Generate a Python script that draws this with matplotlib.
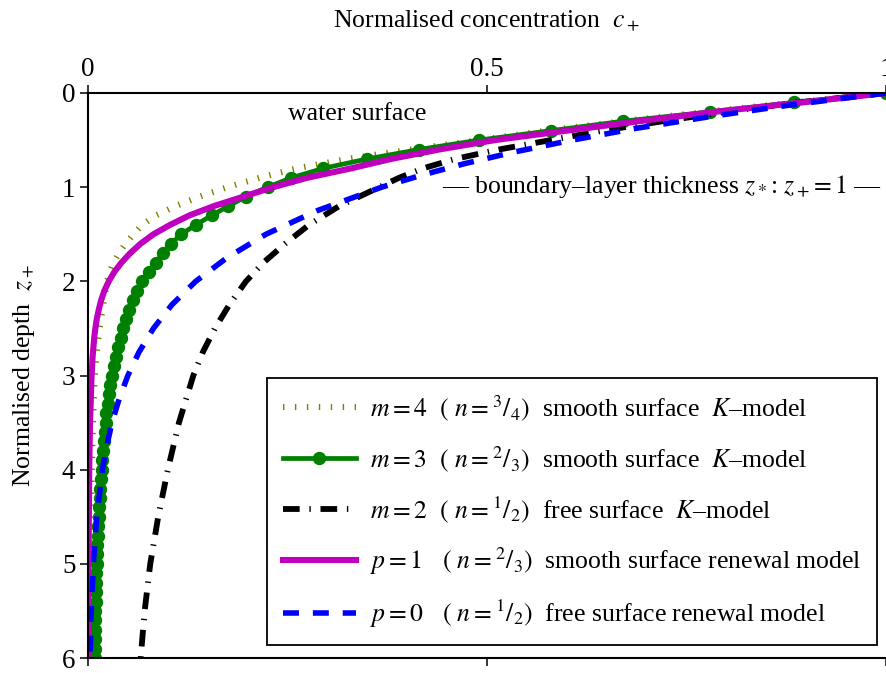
import matplotlib
matplotlib.use('Agg')
import matplotlib.pyplot as plt

plt.rcParams['font.family'] = ['Liberation Serif', 'DejaVu Serif']
plt.rcParams['mathtext.fontset'] = 'stix'
plt.rcParams['lines.scale_dashes'] = False

# depth grid (normalised depth z+) and concentration profiles
z_m4 = [0.0, 0.1, 0.2, 0.3, 0.4, 0.5, 0.6, 0.7, 0.8, 0.9, 1.0, 1.1, 1.2, 1.3, 1.4,
        1.5, 1.6, 1.7, 1.8, 1.9, 2.0, 2.25, 2.5, 2.75, 3.0, 3.5, 4.0, 4.5, 5.0, 5.5, 6.0]
c_m4 = [1.0, 0.885, 0.775, 0.67, 0.575, 0.49, 0.405, 0.325, 0.262, 0.215, 0.175, 0.14,
        0.11, 0.085, 0.068, 0.057, 0.047, 0.039, 0.032, 0.027, 0.024, 0.019, 0.0145,
        0.011, 0.0085, 0.0062, 0.0048, 0.0038, 0.0031, 0.0026, 0.0022]

z_m3 = [round(0.1 * i, 1) for i in range(61)]
c_m3 = [1.0, 0.885, 0.78, 0.67, 0.58, 0.49, 0.415, 0.35, 0.295, 0.255,
        0.225, 0.198, 0.176, 0.155, 0.135, 0.117, 0.104, 0.094, 0.085, 0.076,
        0.068, 0.062, 0.057, 0.052, 0.048, 0.044, 0.041, 0.038, 0.035, 0.033,
        0.030, 0.028, 0.026, 0.025, 0.023, 0.022, 0.021, 0.020, 0.019, 0.018,
        0.017, 0.0162, 0.0155, 0.0148, 0.0140, 0.0133, 0.0127, 0.0121, 0.0116, 0.0111,
        0.0107, 0.0103, 0.0100, 0.0097, 0.0094, 0.0092, 0.0090, 0.0088, 0.0087, 0.0086,
        0.0085]

z_m2 = [0.0, 0.1, 0.2, 0.3, 0.4, 0.5, 0.6, 0.7, 0.8, 0.9, 1.0, 1.2, 1.4, 1.6, 1.8,
        2.0, 2.25, 2.5, 2.75, 3.0, 3.5, 4.0, 4.5, 5.0, 5.5, 6.0]
c_m2 = [1.0, 0.89, 0.80, 0.72, 0.645, 0.58, 0.515, 0.46, 0.42, 0.39, 0.365, 0.315,
        0.277, 0.247, 0.22, 0.198, 0.177, 0.159, 0.144, 0.132, 0.114, 0.10, 0.088,
        0.078, 0.071, 0.066]

z_p1 = [0.0, 0.1, 0.2, 0.3, 0.4, 0.5, 0.6, 0.7, 0.8, 0.9, 1.0, 1.1, 1.2, 1.3, 1.4,
        1.5, 1.6, 1.7, 1.8, 1.9, 2.0, 2.1, 2.2, 2.3, 2.4, 2.5, 2.6, 2.8, 3.0, 3.5,
        4.0, 5.0, 6.0]
c_p1 = [1.0, 0.895, 0.785, 0.69, 0.60, 0.51, 0.44, 0.38, 0.33, 0.275, 0.232, 0.195,
        0.158, 0.127, 0.103, 0.082, 0.066, 0.053, 0.042, 0.033, 0.026, 0.0205, 0.0165,
        0.0135, 0.011, 0.0092, 0.0078, 0.0058, 0.0045, 0.0025, 0.0015, 0.0007, 0.0003]

z_p0 = [0.0, 0.125, 0.25, 0.375, 0.5, 0.625, 0.75, 0.875, 1.0, 1.25, 1.5, 1.75, 2.0,
        2.25, 2.5, 2.75, 3.0, 3.25, 3.5, 3.75, 4.0, 4.5, 5.0, 5.5, 6.0]
c_p0 = [1.0, 0.882, 0.78, 0.687, 0.607, 0.535, 0.472, 0.417, 0.368, 0.287, 0.223,
        0.174, 0.135, 0.105, 0.082, 0.064, 0.05, 0.039, 0.03, 0.0235, 0.018, 0.011,
        0.0067, 0.0041, 0.0025]

labels = [
    r'$m = 4$  $(\ n = {}^{3}/_{4})$  smooth surface  $K$–model',
    r'$m = 3$  $(\ n = {}^{2}/_{3})$  smooth surface  $K$–model',
    r'$m = 2$  $(\ n = {}^{1}/_{2})$  free surface  $K$–model',
    r'$p = 1$   $(\ n = {}^{2}/_{3})$  smooth surface renewal model',
    r'$p = 0$   $(\ n = {}^{1}/_{2})$  free surface renewal model',
]

fig = plt.figure(figsize=(8.86, 6.73), dpi=100)
ax = fig.add_axes([88 / 886, 1 - 658 / 673, 1 - 88 / 886, (658 - 93) / 673])

ax.plot(c_m4, z_m4, color='#808000', lw=4.4, dashes=(1.0, 7.6),
        dash_capstyle='butt', label=labels[0])
ax.plot(c_m3, z_m3, color='#008000', lw=3.4, marker='o', ms=8.6, label=labels[1])
ax.plot(c_m2, z_m2, color='black', lw=4.2, dashes=(12.0, 7.0, 1.0, 7.0),
        dash_capstyle='butt', label=labels[2])
ax.plot(c_p1, z_p1, color='#bf00bf', lw=4.4, label=labels[3])
ax.plot(c_p0, z_p0, color='#0000ff', lw=4.0, dashes=(11.5, 10.0),
        dash_capstyle='butt', label=labels[4])

ax.set_xlim(0, 1)
ax.set_ylim(6, 0)
ax.set_xticks([0, 0.5, 1])
ax.set_xticklabels(['0', '0.5', '1'])
ax.set_yticks(range(7))
ax.xaxis.tick_top()
ax.xaxis.set_label_position('top')
ax.tick_params(axis='x', which='both', top=True, bottom=True, direction='out',
               length=6, width=1.1, labelsize=19.5, pad=2)
ax.tick_params(axis='y', direction='out', length=6, width=1.1, labelsize=19.5, pad=3)
ax.spines['right'].set_visible(False)
for s in ['top', 'bottom', 'left']:
    ax.spines[s].set_linewidth(1.5)

ax.set_xlabel(r'Normalised concentration  $c_+$', fontsize=18.5, labelpad=21)
ax.set_ylabel(r'Normalised depth  $z_+$', fontsize=18.5, labelpad=18)

ax.text(0.251, 0.287, 'water surface', fontsize=18.5, ha='left', va='baseline')
ax.text(0.995, 1.06, r'–– boundary–layer thickness $z_*$: $z_+\!= 1$ ––',
        fontsize=18.5, ha='right', va='baseline')

leg = ax.legend(loc='lower right', bbox_to_anchor=(0.989, 0.023), borderaxespad=0,
                fontsize=18.5, handlelength=2.85, labelspacing=0.8, fancybox=False,
                framealpha=1, edgecolor='black', borderpad=0.6, handletextpad=0.55)
leg.get_frame().set_linewidth(1.3)

fig.savefig('out.png', dpi=100)
